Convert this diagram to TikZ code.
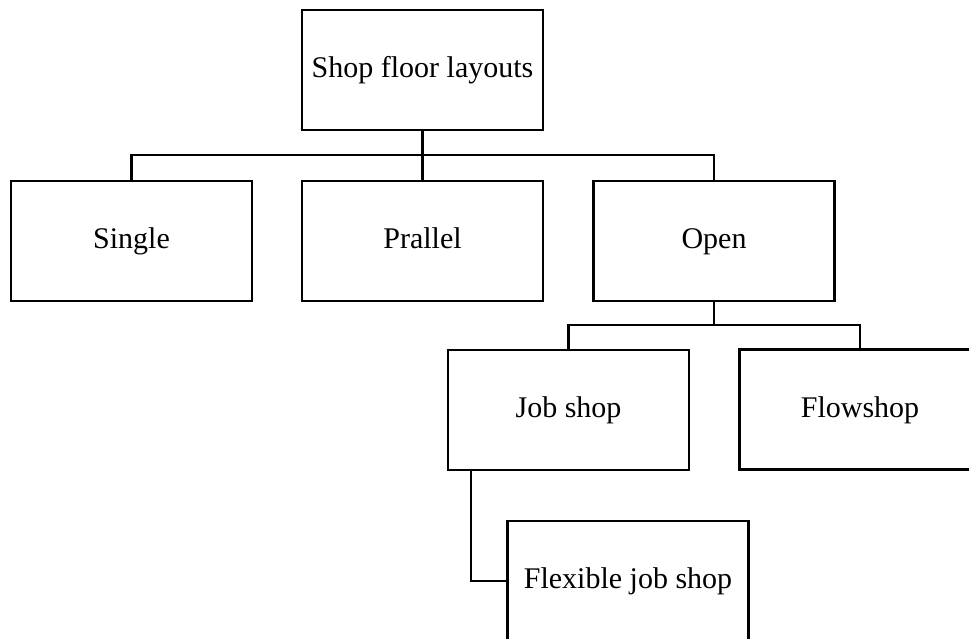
\documentclass[tikz,border=0pt]{standalone}
\usepackage{fontspec}
\setmainfont{Liberation Serif}
\begin{document}
\begin{tikzpicture}[x=0.75pt,y=-0.75pt,
  box/.style={draw, line width=1.6pt, rectangle, minimum width=180.75pt,
    minimum height=90pt, inner sep=0pt, text height=1.15em, text depth=0em,
    font=\fontsize{22.5}{27}\selectfont},
  link/.style={line width=1.6pt}]
  \clip (0,0) rectangle (969,638);
  \fill[white] (0,0) rectangle (969,638);
  % boxes
  \node[box] (top)      at (422.5,70)  {Shop floor layouts};
  \node[box] (single)   at (131.5,241) {Single};
  \node[box] (parallel) at (422.5,241) {Prallel};
  \node[box] (open)     at (714,241)   {Open};
  \node[box] (job)      at (568.5,410) {Job shop};
  \node[box] (flow)     at (860,409.5) {Flowshop};
  \node[box] (flex)     at (628,581)   {Flexible job shop};
  % bus levels
  \coordinate (bus1) at (0,155);
  \coordinate (bus2) at (0,325);
  % connectors
  \draw[link] (top.south) -- (parallel.north);
  \draw[link] (single.north) |- (bus1 -| open.north) -- (open.north);
  \draw[link] (open.south) -- (open.south |- bus2);
  \draw[link] (job.north) |- (bus2 -| flow.north) -- (flow.north);
  \draw[link] ([xshift=18pt]job.south west) |- (flex.west);
\end{tikzpicture}
\end{document}
